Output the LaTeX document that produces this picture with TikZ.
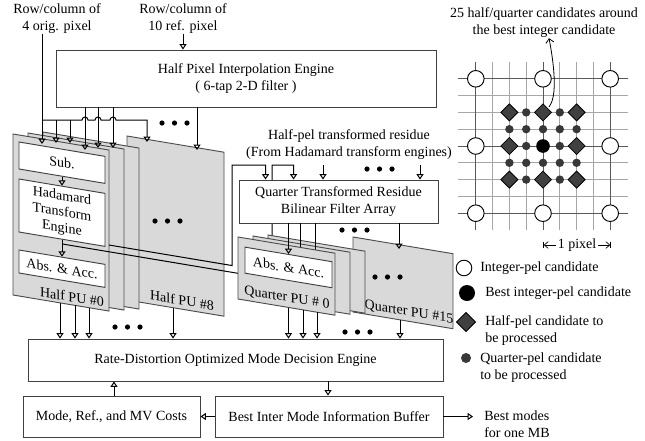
\documentclass[tikz,border=0pt]{standalone}
\usepackage{fontspec}
\setmainfont{Liberation Serif}
\usetikzlibrary{arrows.meta,calc}
\pgfdeclarelayer{back}
\pgfdeclarelayer{mid}
\pgfsetlayers{back,mid,main}
\newcommand\tdots[2]{\fill (#1,#2) circle[radius=2.6] ++(12.5,0) circle[radius=2.6] ++(12.5,0) circle[radius=2.6];}
\begin{document}
\begin{tikzpicture}[x=0.75pt,y=-0.75pt,
  font=\fontsize{10.5}{12.7}\selectfont,
  rbox/.style={draw=black!75, line width=0.7pt, fill=white, inner sep=0pt, align=center},
  panel/.style={draw=black!70, line width=0.7pt, fill=black!15},
  wire/.style={line width=0.75pt},
  arr/.style={wire, -{Triangle[open, length=4pt, width=5.2pt]}},
  lbl/.style={inner sep=0pt, align=center},
  sl/.style={yslant=-0.167},
  gridq/.style={draw=black!35, line width=0.6pt},
  gridi/.style={draw=black!65, line width=0.7pt},
  diam/.style={fill=black!75, draw=black, line width=0.6pt},
  qdot/.style={fill=black!78},
]
\useasboundingbox (0,0) rectangle (645,440);

% ---------- top part
\node[lbl] (l1) at (57,18.5) {Row/column of\\4 orig. pixel};
\node[lbl] (l2) at (183,18.5) {Row/column of\\10 ref. pixel};
\node[rbox, minimum width=285pt, minimum height=42.75pt] (hpie) at (246,78.5) {Half Pixel Interpolation Engine\\( 6-tap 2-D filter )};
\draw[arr] (l2.south) -- (l2.south |- hpie.north);

\node[rbox, minimum width=149.25pt, minimum height=32.25pt] (qf) at (338.5,201.5) {Quarter Transformed Residue\\Bilinear Filter Array};
\node[lbl] (hpr) at (349,145) {Half-pel transformed residue\\(From Hadamard transform engines)};

% ---------- half PUs (back layer)
\begin{pgfonlayer}{back}
\begin{scope}[shift={(127,136)}, sl]
  \filldraw[panel] (0,0) rectangle (97,164);
  \node[lbl, transform shape] (h8) at (55,155) {Half PU \#8};
\end{scope}
\tdots{155}{221}
\foreach \k in {2,1}{
  \begin{scope}[shift={({13+15*\k},{134-\k})}, sl]
    \filldraw[panel] (0,0) rectangle (96,161);
  \end{scope}}
\begin{scope}[shift={(13,134)}, sl]
  \filldraw[panel] (0,0) rectangle (96,161);
  \node[rbox, transform shape, minimum width=64.5pt, minimum height=20.25pt] (hsub) at (49,20.5) {Sub.};
  \node[rbox, transform shape, minimum width=64.5pt, minimum height=39.75pt, font=\fontsize{10.5}{12}\selectfont] (hhad) at (49,70.5) {Hadamard\\Transform\\Engine};
  \node[rbox, transform shape, minimum width=64.5pt, minimum height=17.25pt] (habs) at (49,126.5) {Abs. \& Acc.};
  \node[lbl, transform shape] (h0) at (59,153) {Half PU \#0};
\end{scope}
\draw[arr] (hsub.south) -- (hhad.north);
\draw[arr] (hhad.south) -- (habs.north);
\end{pgfonlayer}

% ---------- residue lines (mid layer)
\begin{pgfonlayer}{mid}
\coordinate (ja) at ($(hhad.south)!0.25!(habs.north)$);
\coordinate (jb) at (109,245);
\draw[arr] (ja) -- ++(210,35.07) -- ++(0,-113.8) -| ($(qf.north west)+(55,0)$);
\draw[arr] (jb) -- ++(123,20.54) -- ++(0,-100.5) -| ($(qf.north west)+(27,0)$);
\end{pgfonlayer}

% ---------- quarter PUs
\begin{scope}[shift={(353,237)}, sl]
  \filldraw[panel] (0,0) rectangle (100,75);
  \node[lbl, transform shape] (q15) at (56,66) {Quarter PU \#15};
\end{scope}
\tdots{375}{277}
\foreach \k in {2,1}{
  \begin{scope}[shift={({238+15*\k},{237-\k})}, sl]
    \filldraw[panel] (0,0) rectangle (97,62);
  \end{scope}}
\coordinate (q300) at (300,252);
\coordinate (q315) at (315,252);
\draw[wire] (q300 |- qf.south) -- (q300);
\draw[wire] (q315 |- qf.south) -- (q315);
\begin{scope}[shift={(238,237)}, sl]
  \filldraw[panel] (0,0) rectangle (97,62);
  \node[rbox, transform shape, minimum width=65.25pt, minimum height=19.5pt] (qabs) at (50.5,22) {Abs. \& Acc.};
  \node[lbl, transform shape] (q0) at (49,53) {Quarter PU \# 0};
\end{scope}
\draw[arr] (qabs.north |- qf.south) -- (qabs.north);
\coordinate (q399) at (399,249);
\draw[arr] (q399 |- qf.south) -- (q399);
\tdots{342}{230}
\coordinate (q323) at (323,165);
\coordinate (q420) at (420,165);
\draw[arr] (q323) -- (q323 |- qf.north);
\draw[arr] (q420) -- (q420 |- qf.north);
\tdots{367}{169}

% ---------- inputs of half PUs
\coordinate (bus0) at (42,120);
\coordinate (a42) at (42,144);
\coordinate (a56) at (56,143);
\coordinate (a70) at (70,143);
\coordinate (a85) at (85,150);
\coordinate (a98) at (98,148);
\coordinate (a113) at (113,148);
\coordinate (a147) at (147,142);
\coordinate (a197) at (197,150);
\draw[arr] (a42 |- l1.south) -- (a42);
\draw[arr] (bus0) -- (82,120) arc[start angle=180,end angle=360,radius=3]
  -- (95,120) arc[start angle=180,end angle=360,radius=3]
  -- (110,120) arc[start angle=180,end angle=360,radius=3] -- (147,120) -- (a147);
\draw[arr] (a56 |- bus0) -- (a56);
\draw[arr] (a70 |- bus0) -- (a70);
\foreach \c in {a85,a98,a113,a197} \draw[arr] (\c |- hpie.south) -- (\c);
\tdots{162}{123}

% ---------- mode decision
\node[rbox, minimum width=311.25pt, minimum height=31.5pt] (rd) at (235.5,360) {Rate-Distortion Optimized Mode Decision Engine};
\foreach \x/\y in {60/302.8, 75/305.3, 89/307.7, 173/307.7, 288.5/307.5, 303/309.9, 317/312.2, 400/319.9}
  {\coordinate (o) at (\x,\y); \draw[arr] (o) -- (o |- rd.north);}
\tdots{115}{327}
\tdots{345}{332}

\node[rbox, minimum width=132.75pt, minimum height=30.75pt] (mc) at (111.5,416.5) {Mode, Ref., and MV Costs};
\node[rbox, minimum width=171pt, minimum height=30.75pt] (bi) at (329,416.5) {Best Inter Mode Information Buffer};
\coordinate (m114) at (114,390);
\coordinate (m328) at (328,390);
\draw[arr] (m114 |- mc.north) -- (m114 |- rd.south);
\draw[arr] (m328 |- rd.south) -- (m328 |- bi.north);
\draw[arr] (bi.west) -- (mc.east);
\coordinate (bo) at (473,416.5);
\draw[arr] (bi.east) -- (bo);
\node[lbl, anchor=west, align=left] (bm) at (484,424) {Best modes\\for one MB};

% ---------- candidate grid
\def\gq{16.8}
\node[lbl] (gt) at (544,23) {25 half/quarter candidates around\\the best integer candidate};
\foreach \i in {-3,-2,-1,1,2,3} {
  \draw[gridq] ({543+\i*\gq},62) -- ({543+\i*\gq},230);
  \draw[gridq] (458,{146+\i*\gq}) -- (628,{146+\i*\gq});
}
\foreach \i in {-4,0,4} {
  \draw[gridi] ({543+\i*\gq},62) -- ({543+\i*\gq},230);
  \draw[gridi] (458,{146+\i*\gq}) -- (628,{146+\i*\gq});
}
\foreach \i in {-4,0,4} \foreach \j in {-4,0,4} {
  \ifnum\i=0 \ifnum\j=0 \else
    \filldraw[fill=white, draw=black, line width=0.7pt] ({543+\i*\gq},{146+\j*\gq}) circle[radius=8.3];
  \fi \else
    \filldraw[fill=white, draw=black, line width=0.7pt] ({543+\i*\gq},{146+\j*\gq}) circle[radius=8.3];
  \fi
}
\foreach \i/\j in {-2/-2,0/-2,2/-2,-2/0,2/0,-2/2,0/2,2/2}
  \filldraw[diam] ({543+\i*\gq-8.5},{146+\j*\gq}) -- ++(8.5,-8.5) -- ++(8.5,8.5) -- ++(-8.5,8.5) -- cycle;
\foreach \i in {-2,...,2} \foreach \j in {-1,1}
  \fill[qdot] ({543+\i*\gq},{146+\j*\gq}) circle[radius=4.2];
\foreach \i in {-1,1} \foreach \j in {-2,0,2}
  \fill[qdot] ({543+\i*\gq},{146+\j*\gq}) circle[radius=4.2];
\fill (543,146) circle[radius=6.8];
\coordinate (ge) at (549,107);
\draw[line width=0.6pt, -{Straight Barb[length=3pt,width=6pt]}] (ge) .. controls (556,98) and (556,75) .. (gt.south -| ge);

\draw[line width=0.5pt, >={Straight Barb[length=3pt,width=5pt]}, |<->|] (543,245) -- (611,245);
\node[fill=white, inner sep=1.5pt] (px) at (577,245) {1 pixel};

% ---------- legend
\draw[line width=0.7pt, fill=white] (464,268) circle[radius=7.8];
\node[lbl, anchor=west] (lg1) at (480,268) {Integer-pel candidate};
\fill (467,293) circle[radius=8];
\node[lbl, anchor=west] (lg2) at (485,293) {Best integer-pel candidate};
\filldraw[diam] (456.5,322) -- ++(9.5,-9.5) -- ++(9.5,9.5) -- ++(-9.5,9.5) -- cycle;
\node[lbl, anchor=west, align=left] (lg3) at (485,330.5) {Half-pel candidate to\\be processed};
\fill[qdot] (466,358) circle[radius=5];
\node[lbl, anchor=west, align=left] (lg4) at (480,367.5) {Quarter-pel candidate\\to be processed};
\end{tikzpicture}
\end{document}
